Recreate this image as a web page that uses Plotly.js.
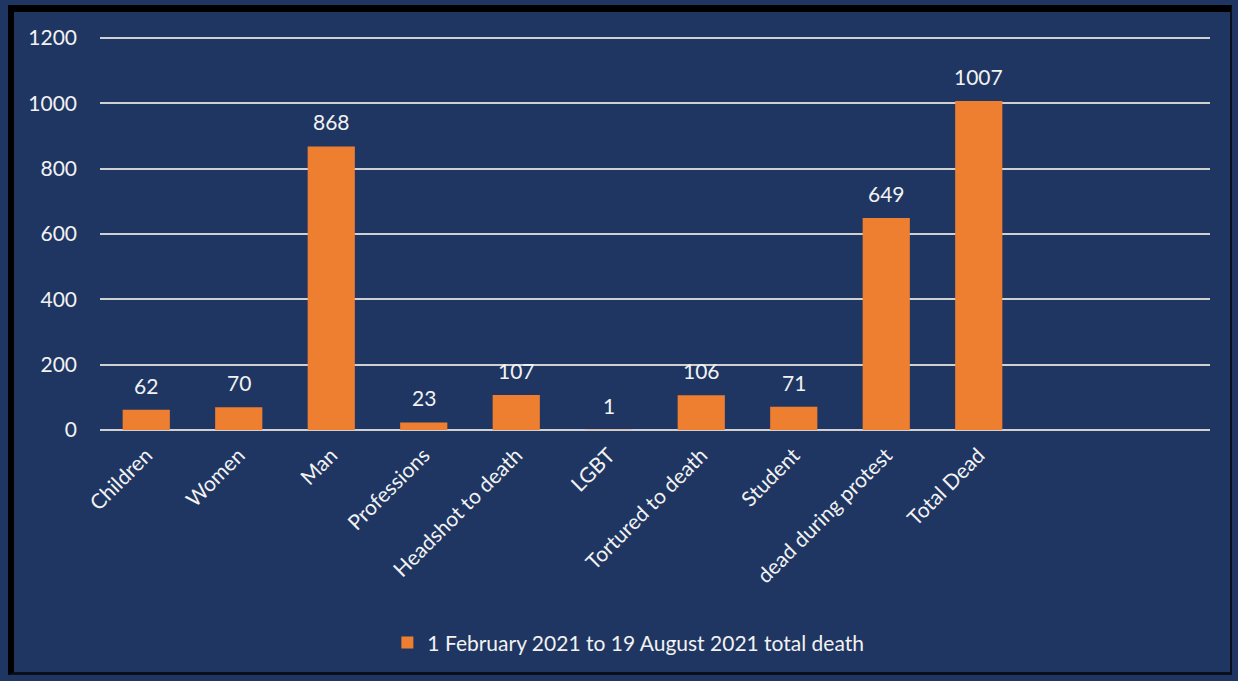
<!DOCTYPE html>
<html>
<head>
<meta charset="utf-8">
<script src="https://cdn.plot.ly/plotly-3.0.1.min.js"></script>
<style>
html,body{margin:0;padding:0;background:#1f3662;width:1238px;height:681px;overflow:hidden;}
#frame{position:absolute;left:8px;top:5px;width:1224px;height:670px;border-left:6px solid #000;border-top:7px solid #000;border-right:2px solid #0a0f1c;border-bottom:3px solid #0a0f1c;box-sizing:border-box;pointer-events:none;z-index:10;}
#chart{position:absolute;left:0;top:0;width:1238px;height:681px;}
</style>
</head>
<body>
<div id="chart"></div>
<div id="frame"></div>
<script>
const categories = ["Children","Women","Man","Professions","Headshot to death","LGBT","Tortured to death","Student","dead during protest","Total Dead"];
const values = [62,70,868,23,107,1,106,71,649,1007];
const seriesName = "1 February 2021 to 19 August 2021 total death";
const yTicks = [0,200,400,600,800,1000,1200];

const font = {family:"Lato, 'Open Sans', sans-serif", color:"#f2f2f2", size:21};

const trace = {
  type:"bar", x:categories, y:values, name:seriesName,
  marker:{color:"#ef7f30", line:{width:0}},
  width:0.51, showlegend:true, hoverinfo:"x+y"
};

const annotations = categories.map((c,i)=>({
  x:c, y:values[i], text:String(values[i]), showarrow:false,
  yanchor:"bottom", yshift:10, font:font
}));

const layout = {
  width:1238, height:681,
  paper_bgcolor:"#1f3662", plot_bgcolor:"#1f3662",
  margin:{l:100, r:28, t:36, b:251},
  font:font,
  xaxis:{type:"category", range:[-0.5,11.5], tickangle:-45, showgrid:false, zeroline:false,
         showline:false, ticks:"", tickfont:font, ticklabelstandoff:8, automargin:false},
  yaxis:{range:[0,1206], tickvals:yTicks, showgrid:true, gridcolor:"#d0d0d0", gridwidth:2,
         zeroline:true, zerolinecolor:"#d0d0d0", zerolinewidth:2, showline:false, ticks:"",
         tickfont:font, ticklabelstandoff:22, automargin:false},
  showlegend:true,
  legend:{orientation:"h", x:0.476, xanchor:"center", y:-0.54, yanchor:"middle", font:font,
          bgcolor:"rgba(0,0,0,0)", itemwidth:30},
  annotations:annotations,
  bargap:0.49
};

Plotly.newPlot("chart",[trace],layout,{displayModeBar:false, staticPlot:true});
</script>
</body>
</html>
